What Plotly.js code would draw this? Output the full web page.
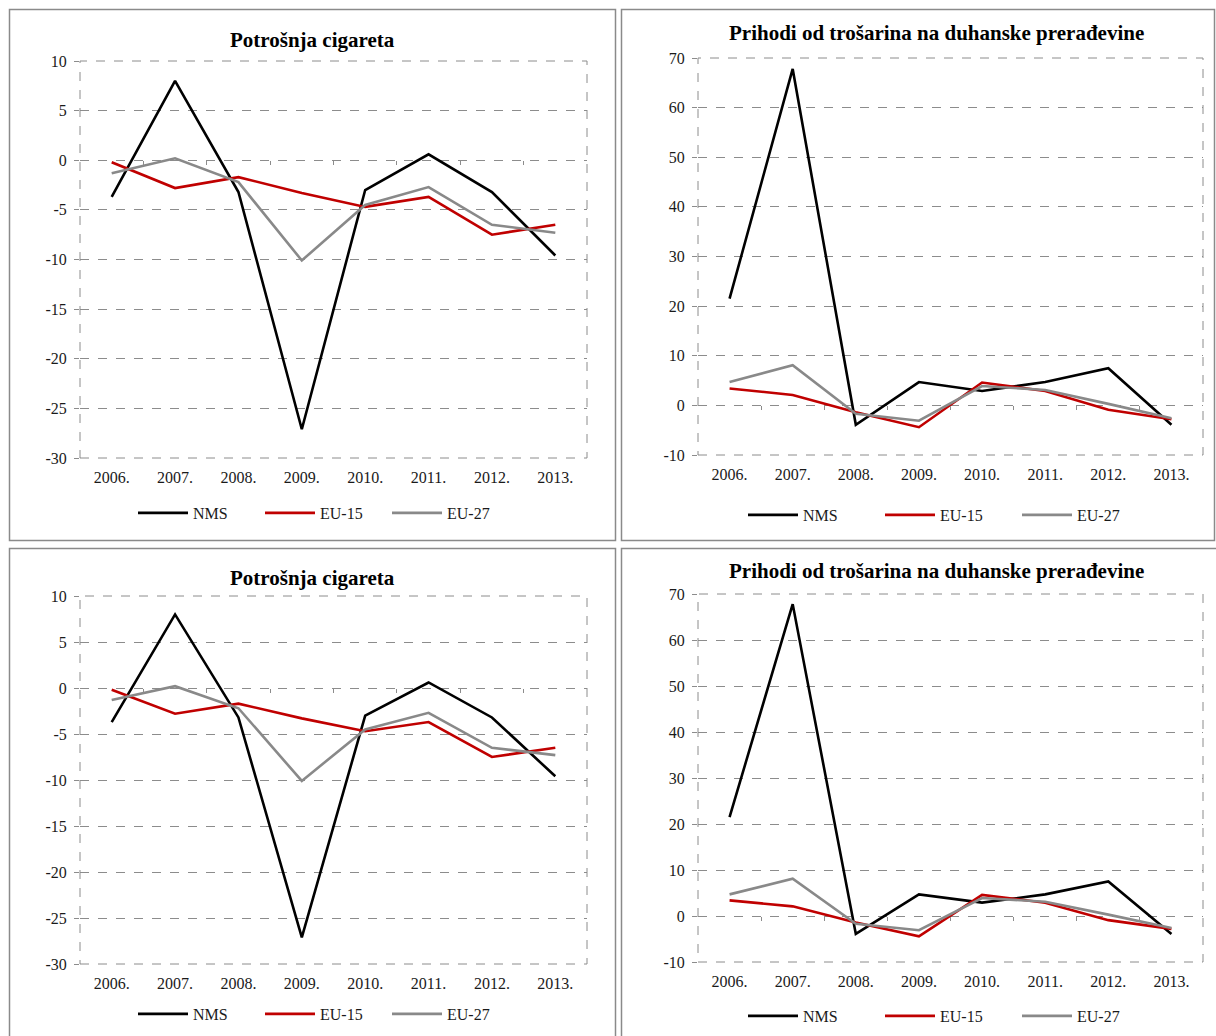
<!DOCTYPE html>
<html>
<head>
<meta charset="utf-8">
<script src="https://cdn.plot.ly/plotly-3.0.1.min.js"></script>
<style>
html,body{margin:0;padding:0;background:#fff;overflow:hidden;}
#chart{width:1216px;height:1036px;}
</style>
</head>
<body>
<div id="chart"></div>
<script>
// ---- data ----
const years = ['2006.', '2007.', '2008.', '2009.', '2010.', '2011.', '2012.', '2013.'];
const seriesNames = ['NMS', 'EU-15', 'EU-27'];

const consNMS  = [-3.7, 8.0, -3.2, -27.1, -3.0, 0.6, -3.2, -9.6];
const consEU15 = [-0.2, -2.8, -1.7, -3.3, -4.7, -3.7, -7.5, -6.5];
const consEU27 = [-1.3, 0.2, -2.2, -10.1, -4.5, -2.7, -6.5, -7.3];

const revNMS  = [21.5, 67.8, -3.9, 4.7, 2.9, 4.7, 7.5, -3.9];
const revEU15 = [3.4, 2.1, -1.4, -4.4, 4.6, 2.9, -0.9, -2.8];
const revEU27 = [4.7, 8.1, -1.7, -3.1, 3.9, 3.1, 0.3, -2.6];

const consTicks = [-30, -25, -20, -15, -10, -5, 0, 5, 10];
const revTicks = [-10, 0, 10, 20, 30, 40, 50, 60, 70];

const titleCons = 'Potrošnja cigareta';
const titleRev = 'Prihodi od trošarina na duhanske prerađevine';

// ---- styling / layout ----
const W = 1216, H = 1036;
const colors = ['#000000', '#c00000', '#898989'];
const FONT = '"Liberation Serif", "Times New Roman", serif';
const px = v => v / W;
const py = v => 1 - v / H;

const panels = [
  {series:[consNMS, consEU15, consEU27], title:titleCons, ticks:consTicks,
   plot:[80,587,61,458], box:[9.5,615.5,9.5,540.5], titleXY:[312,40], legendY:513, legendX:133, entry:62},
  {series:[revNMS, revEU15, revEU27], title:titleRev, ticks:revTicks,
   plot:[698,1203,58,455], box:[621.5,1214.5,9.5,540.5], titleXY:[936,33], legendY:515, legendX:743, entry:72},
  {series:[consNMS, consEU15, consEU27], title:titleCons, ticks:consTicks,
   plot:[80,587,596,964], box:[9.5,615.5,548.5,1045], titleXY:[312,578], legendY:1014, legendX:133, entry:62},
  {series:[revNMS, revEU15, revEU27], title:titleRev, ticks:revTicks,
   plot:[698,1203,594,962], box:[621.5,1225,548.5,1045], titleXY:[936,571], legendY:1016, legendX:743, entry:72}
];

const traces = [];
const layout = {
  width: W, height: H,
  margin: {l:0, r:0, t:0, b:0, pad:0, autoexpand:false},
  paper_bgcolor: '#ffffff',
  plot_bgcolor: 'rgba(0,0,0,0)',
  font: {family: FONT, color: '#1a1a1a', size: 16},
  showlegend: true,
  shapes: [],
  annotations: []
};

panels.forEach((p, i) => {
  const n = i + 1;
  const xa = 'x' + (n === 1 ? '' : n);
  const ya = 'y' + (n === 1 ? '' : n);
  const xKey = 'xaxis' + (n === 1 ? '' : n);
  const yKey = 'yaxis' + (n === 1 ? '' : n);
  const legKey = 'legend' + (n === 1 ? '' : n);
  const xdom = [px(p.plot[0]), px(p.plot[1])];
  const ydom = [py(p.plot[3]), py(p.plot[2])];
  const yr = [p.ticks[0], p.ticks[p.ticks.length - 1]];

  p.series.forEach((vals, s) => {
    traces.push({
      type: 'scatter', mode: 'lines',
      x: years, y: vals,
      name: seriesNames[s],
      xaxis: xa, yaxis: ya,
      legend: legKey,
      line: {color: colors[s], width: 2.6},
      hoverinfo: 'x+y+name'
    });
  });

  layout[xKey] = {
    domain: xdom, anchor: ya, type: 'category',
    range: [-0.5, 7.5],
    showgrid: false, zeroline: false, showline: false,
    ticks: '', tickfont: {family: FONT, size: 16, color: '#1a1a1a'},
    ticklabelstandoff: 8,
    fixedrange: true
  };
  layout[yKey] = {
    domain: ydom, anchor: xa,
    range: yr, tickmode: 'array', tickvals: p.ticks,
    ticktext: p.ticks.map(v => String(v)),
    showgrid: true, gridcolor: '#8c8c8c', griddash: 'dash', gridwidth: 1,
    zeroline: false, showline: false,
    ticks: 'outside', ticklen: 5, tickcolor: '#8c8c8c',
    ticklabelstandoff: 4,
    tickfont: {family: FONT, size: 16, color: '#1a1a1a'},
    fixedrange: true
  };

  // small category ticks on the zero line (overlay axis)
  const ovN = n + 4;
  layout['xaxis' + ovN] = {
    overlaying: xa, anchor: 'free',
    position: ydom[0] + (ydom[1] - ydom[0]) * (0 - yr[0]) / (yr[1] - yr[0]),
    domain: xdom, type: 'linear', range: [-0.5, 7.5],
    tickmode: 'array', tickvals: [0.5, 1.5, 2.5, 3.5, 4.5, 5.5, 6.5],
    showticklabels: false, ticks: 'outside', ticklen: 4, tickcolor: '#8c8c8c',
    showgrid: false, zeroline: false, showline: false, fixedrange: true
  };
  traces.push({type:'scatter', mode:'lines', x:[], y:[], xaxis:'x' + ovN, yaxis: ya,
               showlegend:false, hoverinfo:'skip'});

  // dashed plot area border
  layout.shapes.push({
    type: 'rect', xref: xa + ' domain', yref: ya + ' domain',
    x0: 0, x1: 1, y0: 0, y1: 1,
    line: {color: '#8c8c8c', width: 1, dash: 'dash'}, layer: 'below'
  });
  // panel frame
  layout.shapes.push({
    type: 'rect', xref: 'paper', yref: 'paper',
    x0: px(p.box[0]), x1: px(p.box[1]), y0: py(p.box[3]), y1: py(p.box[2]),
    line: {color: '#8a8a8a', width: 1.5}, layer: 'below'
  });
  // title
  layout.annotations.push({
    text: '<b>' + p.title + '</b>', xref: 'paper', yref: 'paper',
    x: px(p.titleXY[0]), y: py(p.titleXY[1]), xanchor: 'center', yanchor: 'middle',
    showarrow: false, font: {family: FONT, size: 21, color: '#000'}
  });
  // legend
  layout[legKey] = {
    orientation: 'h', x: px(p.legendX), y: py(p.legendY),
    xanchor: 'left', yanchor: 'middle',
    entrywidth: p.entry, entrywidthmode: 'pixels',
    itemwidth: 50,
    bgcolor: 'rgba(0,0,0,0)',
    font: {family: FONT, size: 16, color: '#1a1a1a'},
    itemclick: false, itemdoubleclick: false
  };
});

Plotly.newPlot('chart', traces, layout, {displayModeBar: false, responsive: false});
</script>
</body>
</html>
